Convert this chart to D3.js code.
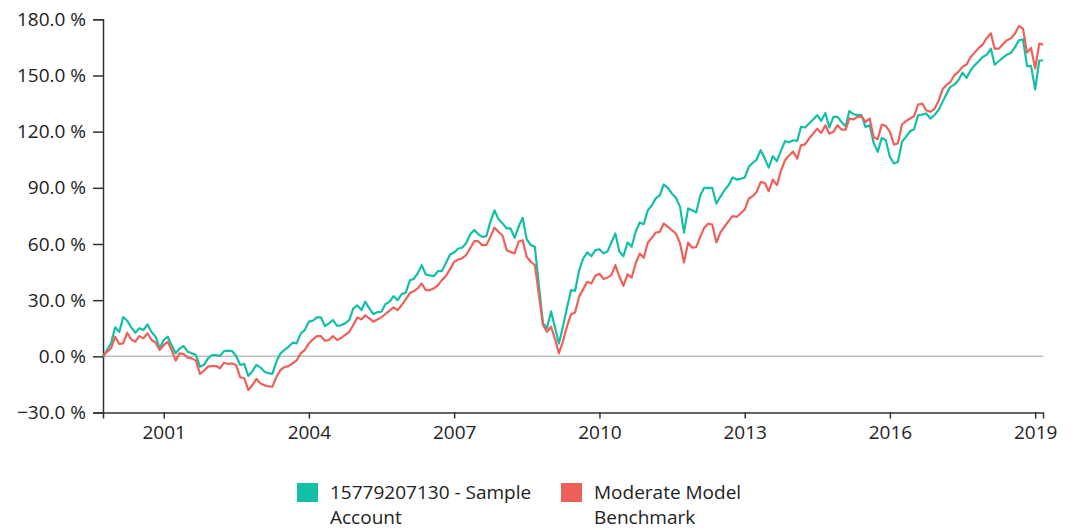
<!DOCTYPE html>
<html>
<head>
<meta charset="utf-8">
<script src="https://cdn.jsdelivr.net/npm/d3@7"></script>
<style>
  body { margin: 0; background: #fff; }
  svg text { font-family: "Open Sans", sans-serif; fill: #222; }
</style>
</head>
<body>
<div id="chart"></div>
<script>
// Chart size
const width = 1078;
const height = 530;
const margin = { top: 19.3, right: 35, bottom: 117.5, left: 103 };

// Monthly dates, Oct 1999 .. Mar 2019
const months = d3.timeMonth.range(new Date(1999, 9, 1), new Date(2019, 3, 1));

// Cumulative return (%) - account
const accountValues = [
  0, 3.4, 7, 15.5, 13, 21, 19, 15.5, 12.6, 15, 14, 17, 13, 10.5, 4.2, 8.7, 10.5, 6, 1.6, 4.2,
  5.5, 2.5, 1.6, 0.7, -5.5, -4.6, -1.1, 0.7, 0.7, 0.2, 2.8, 3, 2.8, 0.2, -4.6, -4, -10.5, -8, -4.6, -6,
  -8.2, -9, -9.4, -2.8, 1.6, 3.4, 5.1, 7.3, 6.9, 12.3, 14, 18.5, 19, 20.8, 20.8, 16.2, 17.6, 19.4, 16.2, 16.7,
  17.6, 19.4, 25.6, 27.2, 24.7, 29.2, 25.6, 22.6, 23.6, 23.8, 27.9, 29.2, 32.2, 30, 33.3, 34, 40.6, 41.3, 44.3, 48.7,
  43.7, 43.2, 42.8, 45.5, 45.5, 50, 54.4, 55.5, 57.6, 58, 60.3, 65.1, 67.4, 65.3, 63.8, 64.2, 71.8, 78, 73.3, 71,
  68.3, 68.3, 63.3, 69.2, 74, 62.6, 59.4, 58.5, 38, 17.6, 15, 24, 15, 6.8, 16, 26, 35.4, 35, 46, 52.3,
  55.5, 53.5, 56.7, 57.2, 55, 55.8, 60.8, 65.6, 55.8, 53.5, 60.8, 58.5, 66.5, 71.5, 70.6, 78, 80.7, 84.3, 86, 91.8,
  90, 87, 84.7, 79.8, 66.1, 79, 78, 76.8, 86, 90, 90, 90, 81.6, 85.2, 88.7, 91.4, 95.5, 94.4, 94.8, 95.5,
  101.2, 103.3, 105.1, 110.1, 105.6, 100.8, 106.9, 104.2, 109.7, 115, 114.3, 115.4, 115, 122.5, 122.2, 124.3, 126.5, 128.8, 125.8, 130,
  122.2, 127.9, 127.9, 125.2, 122.9, 131, 129.3, 128.8, 128.8, 122.5, 123.4, 114, 109.2, 116.7, 115.4, 106.5, 103, 103.8, 114.5, 117.2,
  120.2, 121.3, 128.8, 129.1, 129.7, 127, 128.8, 131.4, 135.9, 139.8, 143.9, 145.1, 147.5, 151.5, 148.7, 152.8, 155.4, 157.6, 159.9, 161.1,
  164.3, 155.8, 157.6, 159.4, 161.1, 162, 165, 168.8, 169.3, 155, 155, 142.6, 158, 158
];

// Cumulative return (%) - benchmark
const benchmarkValues = [
  0, 2.5, 4.3, 10.5, 6.6, 6.9, 12.6, 9, 7.8, 10.8, 9.6, 12.3, 8.7, 7.3, 3.4, 6, 7.8, 3.4, -2.3, 1.6,
  1.2, -0.7, -1.1, -2.3, -9.4, -7.7, -5.5, -5.2, -5.2, -6.4, -3.4, -4.1, -3.8, -4.6, -11.2, -11.7, -18, -15.3, -12, -14.5,
  -15.5, -16, -16.2, -11, -7.3, -5.7, -5.2, -3.7, -2.1, 1.6, 3.4, 6.9, 9.1, 10.8, 10.8, 8.3, 8.7, 10.8, 8.7, 9.8,
  11.4, 13.1, 16.7, 20.8, 19.7, 21.9, 20.3, 18.5, 19.7, 20.8, 22.6, 24.4, 26.1, 24.7, 27.4, 30.4, 33.8, 34.7, 36.3, 38.9,
  35.4, 35.4, 36.3, 38, 40.7, 43, 46.6, 50.5, 51.7, 52.3, 54, 57.6, 61.5, 61.5, 59.4, 59.4, 63.8, 68.7, 66.5, 64.4,
  56.7, 55.8, 55, 61.2, 62, 53.2, 50.5, 48.7, 33, 16.7, 13.1, 15.8, 9, 1.6, 8, 16, 22.5, 23.4, 32, 35.9,
  39.8, 38.9, 43, 44.1, 41.3, 42, 43.4, 48.7, 42.5, 37.7, 43.8, 42, 49.6, 54.9, 52.6, 60.8, 63.3, 66.1, 66.5, 70.9,
  69.2, 67.4, 65.6, 60.3, 50.1, 60.8, 58, 58.3, 63.9, 68.6, 70.9, 70.4, 60.8, 66.1, 69.2, 72.2, 74.9, 74.5, 76.3, 78.4,
  84.3, 85.5, 87.8, 93, 92.7, 88.2, 94.4, 91.4, 99.1, 104.8, 107.3, 109.4, 105.6, 112.7, 113.2, 116.3, 118.9, 121.6, 119.3, 123.4,
  118.9, 119.9, 123.4, 121.1, 121.1, 127, 126.5, 127.9, 128.2, 125.2, 127, 117, 116, 123.8, 123.1, 119.9, 113.1, 113.7, 123.8, 125.6,
  127, 128.2, 134.5, 135, 131.4, 130.6, 132, 136.2, 142.6, 144.8, 146.5, 150.1, 151.9, 154.6, 155.8, 159.9, 162.2, 164.7, 166.5, 170,
  172.5, 164.3, 164.3, 166.5, 168.8, 169.7, 172.3, 176.4, 175, 162.2, 164.7, 153.7, 167, 166.5
];

// Series names, colours, y ticks
const seriesNames = ["15779207130 - Sample Account", "Moderate Model Benchmark"];
const legendLines = [["15779207130 - Sample", "Account"], ["Moderate Model", "Benchmark"]];
const seriesColors = ["#13bfa7", "#ee605a"];
const yTicks = [-30, 0, 30, 60, 90, 120, 150, 180];

const series = [accountValues, benchmarkValues].map((vals, k) => ({
  name: seriesNames[k],
  color: seriesColors[k],
  values: vals.map((v, i) => ({ date: months[i], value: v }))
}));

const svg = d3.select('#chart')
  .append('svg')
  .attr('width', width)
  .attr('height', height);

const innerW = width - margin.left - margin.right;
const innerH = height - margin.top - margin.bottom;

const g = svg.append('g')
  .attr('transform', `translate(${margin.left},${margin.top})`);

// Scales
const x = d3.scaleTime()
  .domain(d3.extent(months))
  .range([0, innerW]);

const y = d3.scaleLinear()
  .domain([-30, 180])
  .range([innerH, 0]);

// Zero line
g.append('line')
  .attr('x1', 0)
  .attr('x2', innerW)
  .attr('y1', y(0))
  .attr('y2', y(0))
  .attr('stroke', '#bdbdbd')
  .attr('stroke-width', 1.5);

// Axes
const yAxis = g.append('g')
  .call(d3.axisLeft(y)
    .tickValues(yTicks)
    .tickFormat(d => d3.format('.1f')(d) + ' %')
    .tickSize(10)
    .tickPadding(7));

const xAxis = g.append('g')
  .attr('transform', `translate(0,${innerH})`)
  .call(d3.axisBottom(x)
    .ticks(d3.timeYear.every(3))
    .tickFormat(d3.timeFormat('%Y'))
    .tickSize(6)
    .tickPadding(7));

[yAxis, xAxis].forEach(ax => {
  ax.select('.domain').attr('stroke', '#333').attr('stroke-width', 1.5);
  ax.selectAll('.tick line').attr('stroke', '#333').attr('stroke-width', 1.5);
  ax.selectAll('.tick text')
    .attr('font-size', 19)
    .attr('font-family', '"Open Sans", sans-serif')
    .attr('fill', '#222');
});

// Lines
const line = d3.line()
  .x(d => x(d.date))
  .y(d => y(d.value));

g.selectAll('path.series')
  .data(series)
  .join('path')
  .attr('class', 'series')
  .attr('fill', 'none')
  .attr('stroke', d => d.color)
  .attr('stroke-width', 2.2)
  .attr('stroke-linejoin', 'round')
  .attr('d', d => line(d.values));

// Legend
const legendX = [297, 561];
const legend = svg.selectAll('g.legend')
  .data(series)
  .join('g')
  .attr('class', 'legend')
  .attr('transform', (d, i) => `translate(${legendX[i]},483)`);

legend.append('rect')
  .attr('width', 21)
  .attr('height', 19)
  .attr('fill', d => d.color);

legend.append('text')
  .attr('x', 33)
  .attr('y', 16)
  .attr('font-size', 19)
  .selectAll('tspan')
  .data((d, i) => legendLines[i])
  .join('tspan')
  .attr('x', 33)
  .attr('dy', (d, j) => j === 0 ? 0 : 25)
  .text(d => d);
</script>
</body>
</html>
